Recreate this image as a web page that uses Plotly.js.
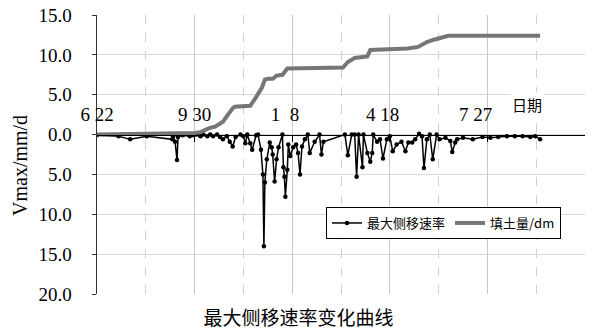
<!DOCTYPE html>
<html>
<head>
<meta charset="utf-8">
<script src="https://cdn.plot.ly/plotly-3.0.1.min.js"></script>
<style>html,body{margin:0;padding:0;background:#fff;}#chart{width:597px;height:332px;}</style>
</head>
<body>
<div id="chart"></div>
<script>
// x = days since 6/22 (ticks every 100 days: 6/22, 9/30, 1/8, 4/18, 7/27, 11/4)
const tickDays = [0, 100, 200, 300, 400, 500];
const tickLabels = ["6 22", "9 30", "1\u00a0\u00a08\u00a0\u00a0\u00a0", "4 18\u00a0\u00a0\u00a0", "7 27\u00a0\u00a0\u00a0\u00a0\u00a0", "11 4\u00a0\u00a0\u00a0\u00a0\u00a0\u00a0"];
const yTickVals = [-20, -15, -10, -5, 0, 5, 10, 15];
const yTickText = ["20.0", "15.0", "10.0", "5.0", "0.0", "5.0", "10.0", "15.0"];

// 最大侧移速率 (mm/d, drawn downward)
const rateDays = [0, 22, 34, 51, 77, 78, 80, 82, 83, 88, 95, 99, 102, 106, 109, 113, 116, 119, 123, 126, 129, 133, 136, 139, 142, 147, 150, 152, 154, 157, 159, 163, 165, 168, 170, 171, 172, 174, 177, 179, 180, 182, 184, 186, 190, 191, 192, 193, 195, 196, 198, 201, 204, 206, 208, 210, 213, 216, 218, 223, 228, 230, 232, 254, 257, 261, 264, 266, 268, 272, 273, 277, 280, 282, 283, 287, 290, 293, 297, 300, 303, 307, 312, 316, 319, 323, 326, 330, 333, 335, 338, 341, 344, 348, 351, 357, 362, 364, 367, 369, 375, 385, 395, 403, 411, 420, 428, 436, 444, 449, 454];
const rateVals = [-0.1, -0.2, -0.6, -0.2, -0.6, -0.2, -0.9, -3.2, -0.3, -0.1, -0.2, -0.1, 0, -0.2, 0, -0.2, 0, -0.2, 0, -0.3, -0.6, -0.2, -0.9, -1.5, -0.3, 0, -0.2, -1.1, 0, -1.1, -1.9, -0.1, 0, -1.9, -5.0, -14.0, -6.0, -3.1, -1.0, -1.6, -2.5, -5.9, -3.1, -1.6, 0, -4.1, -5.3, -7.8, -4.4, -1.25, -2.7, -1.6, -1.25, -2.3, -5.0, -1.5, -0.6, 0, -2.3, -0.9, 0, -2.5, -0.9, 0, -2.6, 0, 0, -5.3, 0, -4.1, 0, -2.3, -3.4, -2.3, 0, -0.9, -0.6, -3.0, -0.6, -0.2, -2.1, -1.25, -0.9, -2.1, -1.0, -1.0, -0.6, 0.1, -0.2, -4.2, -0.6, 0, -3.1, 0, -0.6, -0.4, -0.8, -2.2, -1.0, -0.6, -0.4, -0.6, -0.3, -0.4, -0.3, -0.2, -0.2, -0.2, -0.3, -0.2, -0.6];

// 填土量/dm
const fillDays = [0, 75, 100, 106, 109, 115, 121, 129, 133, 136, 139, 141, 150, 157, 163, 169, 172, 175, 180, 184, 190, 195, 252, 257, 264, 270, 277, 280, 318, 329, 338, 345, 351, 360, 454];
const fillVals = [0, 0.1, 0.2, 0.3, 0.5, 0.8, 1.0, 1.6, 2.3, 2.9, 3.3, 3.5, 3.5, 3.6, 4.7, 5.9, 6.9, 7.0, 7.0, 7.4, 7.5, 8.3, 8.4, 9.1, 9.6, 9.7, 9.8, 10.6, 10.8, 11.0, 11.6, 11.9, 12.1, 12.4, 12.4];

const serifFont = "Times New Roman";
const cjkFont = "Noto Sans CJK SC";

const traces = [
  {
    x: rateDays, y: rateVals, name: "最大侧移速率", type: "scatter", mode: "lines+markers",
    xaxis: "x2", yaxis: "y",
    line: {color: "#000000", width: 1.5}, marker: {color: "#000000", size: 4.5, symbol: "circle"},
    legendrank: 1
  },
  {
    x: fillDays, y: fillVals, name: "填土量/dm", type: "scatter", mode: "lines",
    xaxis: "x3", yaxis: "y",
    line: {color: "#767676", width: 4}, legendrank: 2
  }
];

const layout = {
  width: 597, height: 332,
  margin: {l: 97, r: 12, t: 15, b: 38},
  paper_bgcolor: "#ffffff", plot_bgcolor: "#ffffff",
  showlegend: true,
  font: {family: serifFont, color: "#000000"},
  title: {text: "最大侧移速率变化曲线", font: {family: cjkFont, size: 19, color: "#000000"},
          xref: "container", x: 0.5, xanchor: "center", yref: "container", y: 0.04, yanchor: "middle"},
  // dashed grid every 50 days
  xaxis: {
    range: [0, 500], tickmode: "linear", tick0: 0, dtick: 50,
    showticklabels: false, ticks: "", showline: false,
    showgrid: true, gridcolor: "#cfcfcf", gridwidth: 1, griddash: "dash", zeroline: false
  },
  // labelled date axis on the zero line
  xaxis2: {
    range: [0, 500], tickmode: "array", tickvals: tickDays, ticktext: tickLabels,
    overlaying: "x", anchor: "free", position: 20 / 35, side: "top",
    showline: true, linecolor: "#000000", linewidth: 1,
    ticks: "inside", ticklen: 6, tickcolor: "#000000",
    ticklabelstandoff: 6,
    tickfont: {family: serifFont, size: 19, color: "#000000"},
    showgrid: false, zeroline: false
  },
  // solid grid every 100 days
  xaxis3: {
    range: [0, 500], tickmode: "linear", tick0: 0, dtick: 100,
    overlaying: "x", anchor: "y",
    showticklabels: false, ticks: "", showline: false,
    showgrid: true, gridcolor: "#c8c8c8", gridwidth: 1, zeroline: false
  },
  yaxis: {
    range: [-20, 15], tickmode: "array", tickvals: yTickVals, ticktext: yTickText,
    showline: true, linecolor: "#333333", linewidth: 1.5,
    ticks: "outside", ticklen: 4, tickcolor: "#333333",
    ticklabelstandoff: 16,
    tickfont: {family: serifFont, size: 19, color: "#000000"},
    showgrid: true, gridcolor: "#d9d9d9", gridwidth: 1, zeroline: false
  },
  legend: {
    orientation: "h", x: (326 - 97) / 488, xanchor: "left", y: (294 - 207) / 279, yanchor: "top",
    bgcolor: "#ffffff", bordercolor: "#000000", borderwidth: 1,
    font: {family: cjkFont, size: 13, color: "#000000"}, tracegroupgap: 0, itemwidth: 30
  },
  annotations: [
    {text: "Vmax/mm/d", xref: "paper", yref: "paper", x: 0, y: (294 - 166) / 279, xshift: -77,
     xanchor: "center", yanchor: "middle", textangle: -90, showarrow: false,
     font: {family: serifFont, size: 20, color: "#000000"}},
    {text: "日期", xref: "x", yref: "y", x: 441, y: 3.75, xanchor: "center", yanchor: "middle",
     showarrow: false, bgcolor: "#ffffff", font: {family: cjkFont, size: 15, color: "#000000"}}
  ]
};

Plotly.newPlot("chart", traces, layout, {displayModeBar: false, staticPlot: true});
</script>
</body>
</html>
